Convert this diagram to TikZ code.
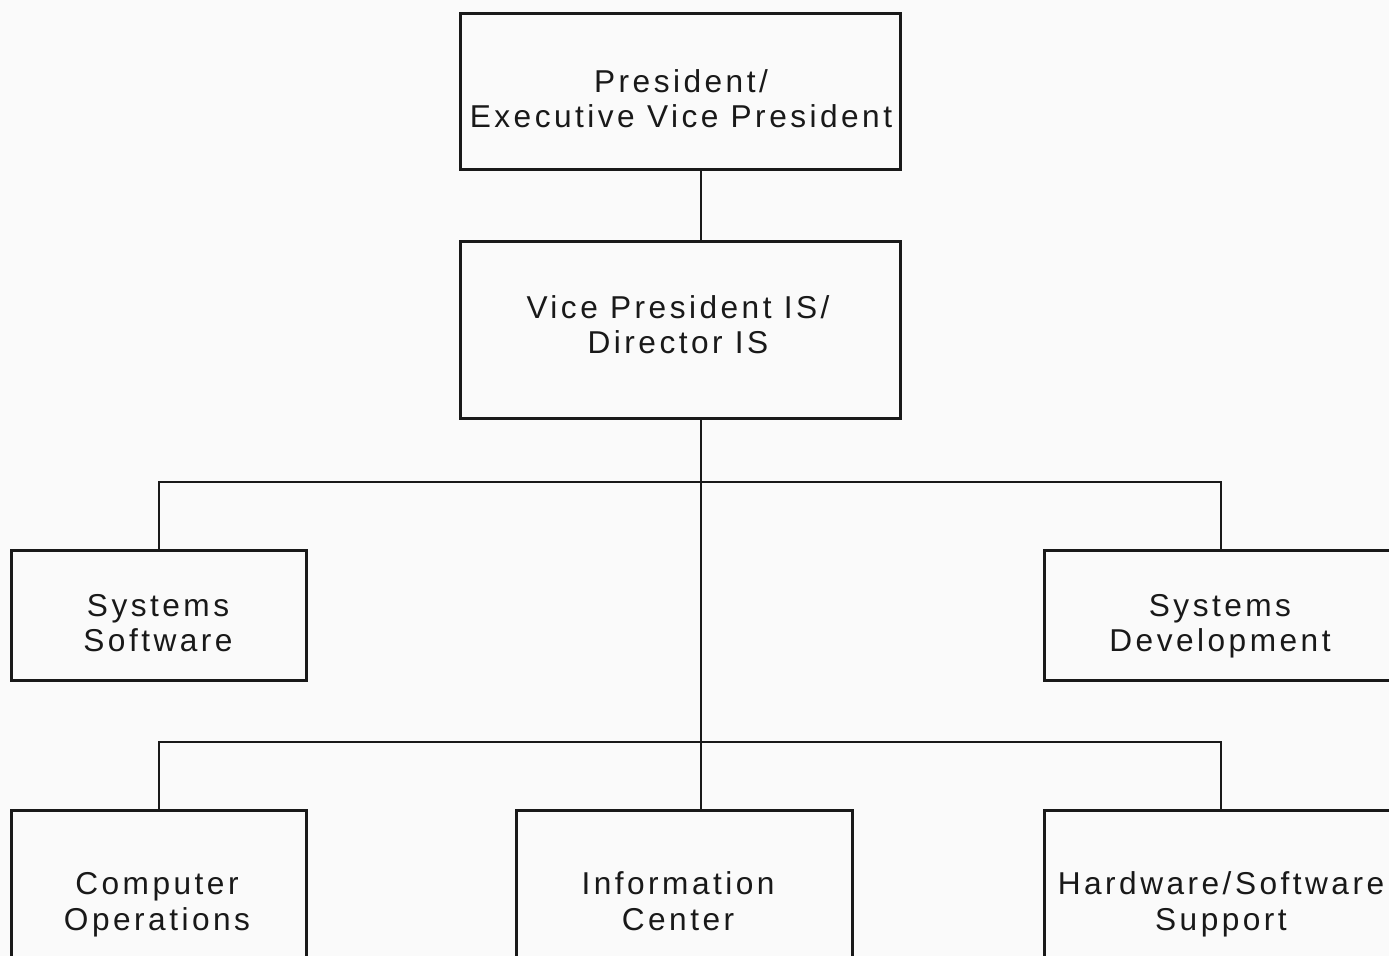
\documentclass[tikz,border=0pt]{standalone}
\usepackage{fontspec}
\setmainfont{Liberation Sans}[LetterSpace=11]
\begin{document}
\begin{tikzpicture}[x=0.02cm,y=-0.02cm,
  unit/.style={draw=black!90, line width=1.7pt, fill=white!98!black,
    rectangle, inner sep=0pt},
  caption/.style={align=center, inner sep=0pt,
    font=\fontsize{18pt}{20pt}\selectfont, text=black!90},
  link/.style={draw=black!90, line width=1.4pt}]
  % page area, everything outside is cut away
  \clip (0,0) rectangle (1389,956);
  \fill[white!98!black] (0,0) rectangle (1389,956);

  % boxes
  \node[unit, minimum width=8.82cm, minimum height=3.14cm] (pres) at (680.5,91.5) {};
  \node[unit, minimum width=8.82cm, minimum height=3.56cm] (vpis) at (680.5,330) {};
  \node[unit, minimum width=5.92cm, minimum height=2.62cm] (syssw) at (159,615.5) {};
  \node[unit, minimum width=7.08cm, minimum height=2.62cm] (sysdev) at (1221,615.5) {};
  \node[unit, minimum width=5.92cm, minimum height=3.64cm] (compops) at (159,901) {};
  \node[unit, minimum width=6.74cm, minimum height=3.64cm] (infoc) at (684.5,901) {};
  \node[unit, minimum width=7.08cm, minimum height=3.64cm] (hwsw) at (1221,901) {};

  % box titles
  \node[caption] (pres-t) at (681,103) {\strut President/\\\strut Executive Vice President};
  \node[caption] (vpis-t) at (678,329) {\strut Vice President IS/\\\strut Director IS};
  \node[caption] (syssw-t) at (158,627) {\strut Systems\\\strut Software};
  \node[caption] (sysdev-t) at (1220,627) {\strut Systems\\\strut Development};
  \node[caption] (compops-t) at (157,905.5) {\strut Computer\\\strut Operations};
  \node[caption] (infoc-t) at (678,905.5) {\strut Information\\\strut Center};
  \node[caption] (hwsw-t) at (1221,905.5) {\strut Hardware/Software\\\strut Support};

  % reporting lines
  \coordinate (spine) at (701,0);
  \coordinate (busa) at (701,482);
  \coordinate (busb) at (701,742);
  \draw[link] (pres.south -| spine) -- (vpis.north -| spine);
  \draw[link] (vpis.south -| spine) -- (infoc.north -| spine);
  \draw[link] (syssw.north) |- (busa) -| (sysdev.north);
  \draw[link] (compops.north) |- (busb) -| (hwsw.north);
\end{tikzpicture}
\end{document}
